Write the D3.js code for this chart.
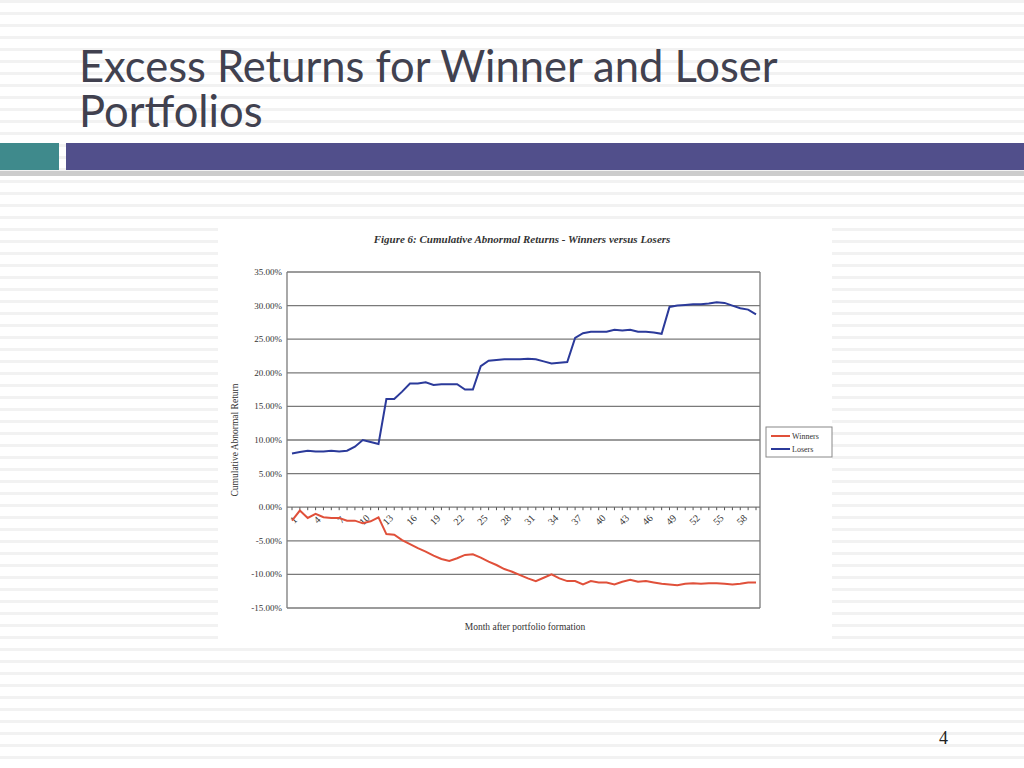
<!DOCTYPE html><html><head><meta charset="utf-8">
<script src="https://d3js.org/d3.v7.min.js"></script>
<style>body{margin:0;background:#fff}svg{display:block}</style></head><body>
<script>
const months = d3.range(1,61);
const losers = [8.0,8.2,8.4,8.3,8.3,8.4,8.3,8.4,9.0,10.0,9.7,9.4,16.1,16.1,17.2,18.4,18.4,18.6,18.2,18.3,18.3,18.3,17.5,17.5,21.0,21.8,21.9,22.0,22.0,22.0,22.1,22.0,21.7,21.4,21.5,21.6,25.2,25.9,26.1,26.1,26.1,26.4,26.3,26.4,26.1,26.1,26.0,25.8,29.8,30.0,30.1,30.2,30.2,30.3,30.5,30.4,30.0,29.6,29.4,28.7];
const winners = [-2.0,-0.5,-1.6,-1.0,-1.5,-1.6,-1.6,-2.0,-2.0,-2.4,-2.1,-1.5,-4.0,-4.1,-4.9,-5.5,-6.1,-6.6,-7.2,-7.7,-8.0,-7.6,-7.1,-7.0,-7.5,-8.1,-8.6,-9.2,-9.6,-10.1,-10.6,-11.0,-10.5,-10.0,-10.6,-11.0,-11.0,-11.5,-11.0,-11.2,-11.2,-11.5,-11.1,-10.8,-11.1,-11.0,-11.2,-11.4,-11.5,-11.6,-11.4,-11.3,-11.4,-11.3,-11.3,-11.4,-11.5,-11.4,-11.2,-11.2];
const yTicks = [35,30,25,20,15,10,5,0,-5,-10,-15];
const xTicks = d3.range(1,61,3);
const seriesNames = ["Winners","Losers"];

const svg = d3.select("body").append("svg").attr("width",1024).attr("height",768);
svg.selectAll("rect.st").data(d3.range(0,768,12)).join("rect").attr("x",0).attr("y",d=>d).attr("width",1024).attr("height",3).attr("fill","#f2f2f2");
svg.append("text").attr("x",79).attr("y",82).attr("font-family","Lato").attr("font-size",43.5).attr("fill","#41414f").text("Excess Returns for Winner and Loser");
svg.append("text").attr("x",79).attr("y",127).attr("font-family","Lato").attr("font-size",43.5).attr("fill","#41414f").text("Portfolios");
svg.append("rect").attr("x",0).attr("y",171).attr("width",1024).attr("height",5).attr("fill","#9a9a9a").attr("opacity",0.5);
svg.append("rect").attr("x",0).attr("y",143).attr("width",59).attr("height",27).attr("fill","#3f8a8c");
svg.append("rect").attr("x",66).attr("y",143).attr("width",958).attr("height",27).attr("fill","#514f8b");
svg.append("text").attr("x",948).attr("y",744).attr("text-anchor","end").attr("font-family","Liberation Serif").attr("font-size",18).attr("fill","#222").text("4");

svg.append("rect").attr("x",218).attr("y",225).attr("width",614).attr("height",415).attr("fill","#fff");
const x = d3.scaleLinear().domain([1,60]).range([292,756]);
const y = d3.scaleLinear().domain([-15,35]).range([608,272]);
const L=287,R=760;
const g = svg.append("g").attr("font-family","Liberation Serif").attr("fill","#333");
g.append("text").attr("x",522).attr("y",243).attr("text-anchor","middle").attr("font-size",11).attr("font-style","italic").attr("font-weight","bold").attr("fill","#333").text("Figure 6: Cumulative Abnormal Returns - Winners versus Losers");
g.selectAll("line.gr").data(yTicks).join("line").attr("x1",L).attr("x2",R).attr("y1",d=>y(d)).attr("y2",d=>y(d)).attr("stroke","#7a7a7a").attr("stroke-width",1.3);
g.append("line").attr("x1",L).attr("x2",L).attr("y1",y(35)).attr("y2",y(-15)).attr("stroke","#7a7a7a").attr("stroke-width",1.3);
g.append("line").attr("x1",R).attr("x2",R).attr("y1",y(35)).attr("y2",y(-15)).attr("stroke","#7a7a7a").attr("stroke-width",1.3);
g.selectAll("text.yt").data(yTicks).join("text").attr("x",282).attr("y",d=>y(d)+3).attr("text-anchor","end").attr("font-size",9).text(d=>d.toFixed(2)+"%");
g.selectAll("line.xt").data(months).join("line").attr("x1",d=>x(d)).attr("x2",d=>x(d)).attr("y1",y(0)).attr("y2",y(0)+3).attr("stroke","#555");
g.selectAll("text.xl").data(xTicks).join("text").attr("transform",d=>`translate(${x(d)+4},${y(0)+15}) rotate(-45)`).attr("text-anchor","middle").attr("font-size",10).text(d=>d);
g.append("text").attr("transform",`translate(238,${y(10)}) rotate(-90)`).attr("text-anchor","middle").attr("font-size",9.5).text("Cumulative Abnormal Return");
g.append("text").attr("x",525).attr("y",630).attr("text-anchor","middle").attr("font-size",9.5).text("Month after portfolio formation");
const line = d3.line().x((d,i)=>x(months[i])).y(d=>y(d));
g.append("path").datum(losers).attr("d",line).attr("fill","none").attr("stroke","#2b3a9a").attr("stroke-width",2);
g.append("path").datum(winners).attr("d",line).attr("fill","none").attr("stroke","#e0503a").attr("stroke-width",2);
g.append("rect").attr("x",766).attr("y",427).attr("width",66).attr("height",30).attr("fill","#fff").attr("stroke","#888");
const cols=["#e0503a","#2b3a9a"];
seriesNames.forEach((n,i)=>{
  g.append("line").attr("x1",771).attr("x2",790).attr("y1",436+i*13).attr("y2",436+i*13).attr("stroke",cols[i]).attr("stroke-width",2);
  g.append("text").attr("x",792).attr("y",439+i*13).attr("font-size",8).text(n);
});
</script></body></html>
